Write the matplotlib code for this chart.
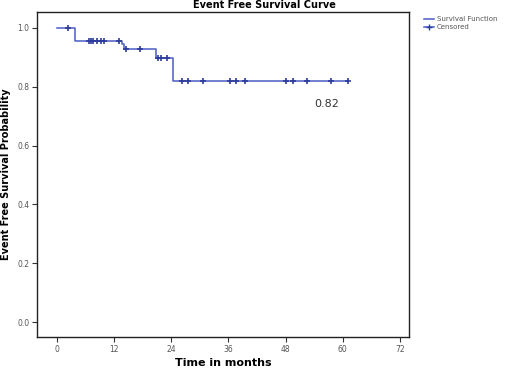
import matplotlib
matplotlib.use("Agg")
import matplotlib.pyplot as plt
from matplotlib.lines import Line2D

# Kaplan-Meier step data (time in months, survival probability)
step_times = [0, 3.8, 13.6, 14.1, 20.8, 24.3, 61.1]
step_surv = [1.0, 0.957, 0.944, 0.928, 0.898, 0.82, 0.82]

# Censored observations
cens_times = [2.4, 6.8, 7.1, 7.6, 8.3, 9.2, 9.9, 13.1, 14.5, 17.4, 21.2, 21.9, 23.1,
              26.3, 27.4, 30.7, 36.3, 37.5, 39.4, 48.0, 49.6, 52.4, 57.6, 61.1]

x_ticks = [0, 12, 24, 36, 48, 60, 72]
y_ticks = [0.0, 0.2, 0.4, 0.6, 0.8, 1.0]


def surv_at(t):
    s = step_surv[0]
    for tt, ss in zip(step_times, step_surv):
        if tt <= t:
            s = ss
    return s


cens_surv = [surv_at(t) for t in cens_times]

line_color = "#4a5cc4"
mark_color = "#2c3c9c"

W, H = 520, 371
fig = plt.figure(figsize=(5.2, 3.71), dpi=100)
ax = fig.add_axes([37 / W, 1 - 337 / H, (409 - 37) / W, (337 - 12) / H])

ax.step(step_times, step_surv, where="post", color=line_color, lw=1.1)
ax.plot(cens_times, cens_surv, linestyle="none", marker="+", color=mark_color,
        markersize=5, markeredgewidth=1.2)

ax.set_xlim(-4.2, 73.9)
ax.set_ylim(-0.051, 1.054)
ax.set_xticks(x_ticks)
ax.set_yticks(y_ticks)
ax.set_xticklabels([str(v) for v in x_ticks])
ax.set_yticklabels([f"{v:.1f}" for v in y_ticks])
ax.tick_params(axis="both", labelsize=5.5, labelcolor="#555555", length=3.5,
               width=0.8, color="#333333", pad=2)

for sp in ax.spines.values():
    sp.set_linewidth(1.0)
    sp.set_color("#222222")

ax.set_xlabel("Time in months", fontsize=8, fontweight="bold", labelpad=3)
ax.set_ylabel("Event Free Survival Probability", fontsize=7, fontweight="bold")
ax.yaxis.set_label_coords((11.5 - 37) / (409 - 37), 0.5)
fig.text(264 / W, 1 - 5 / H, "Event Free Survival Curve", fontsize=7, fontweight="bold",
         ha="center", va="center")

ax.text(56.7, 0.742, "0.82", fontsize=8, color="#333333", ha="center", va="center")

handles = [
    Line2D([], [], color=line_color, lw=1.1, drawstyle="steps-post"),
    Line2D([], [], color=line_color, lw=1.1, marker="+", markersize=5,
           markeredgecolor=mark_color),
]
fig.legend(handles, ["Survival Function", "Censored"], loc="upper left",
           bbox_to_anchor=(418 / W, 1 - 10 / H), frameon=False, fontsize=5,
           handlelength=1.4, handletextpad=0.4, labelspacing=0.25, labelcolor="#555555")

fig.savefig("out.png", dpi=100)
